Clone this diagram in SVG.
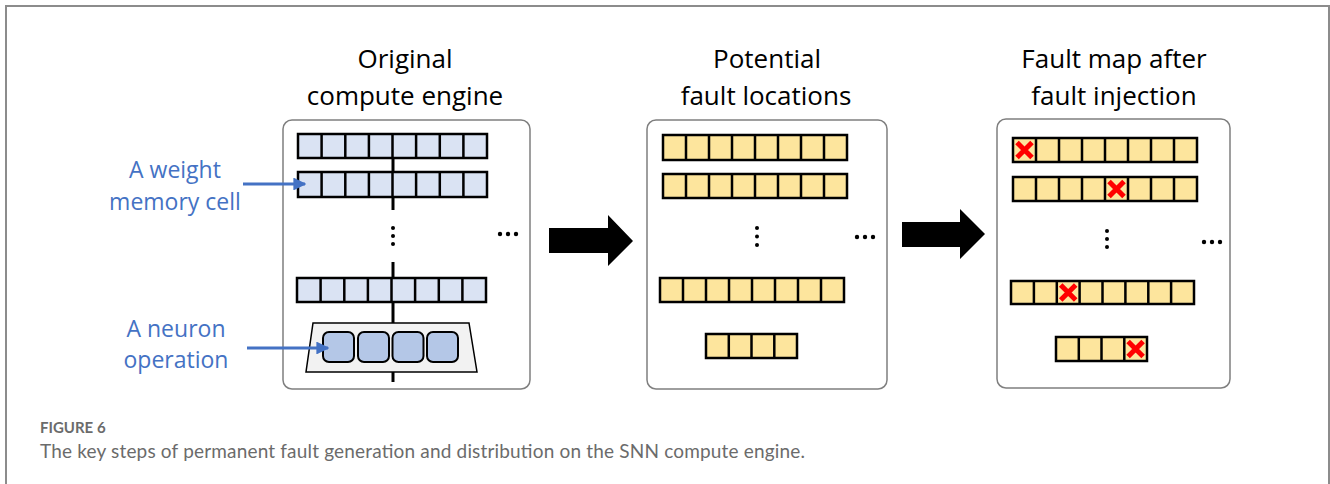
<svg xmlns="http://www.w3.org/2000/svg" width="1330" height="484" viewBox="0 0 1330 484">
  <style>
    .frame { fill: none; stroke: #8c8c8c; stroke-width: 2; }
    .panel { fill: #ffffff; stroke: #7f7f7f; stroke-width: 1.5; }
    .title { font-family: "Open Sans", "Liberation Sans", sans-serif; font-size: 26px; fill: #000; text-anchor: middle; }
    .label { font-family: "Open Sans", "Liberation Sans", sans-serif; font-size: 23px; fill: #4472c4; text-anchor: middle; }
    .wcell { fill: #dae3f3; stroke: #000; stroke-width: 2.5; }
    .fcell { fill: #fde59d; stroke: #000; stroke-width: 2.5; }
    .div { fill: none; stroke: #000; stroke-width: 2.5; }
    .bus { stroke: #000; stroke-width: 3; }
    .dot { fill: #000; }
    .block { fill: #000; }
    .ptr { stroke: #4472c4; stroke-width: 3; fill: none; }
    .fault { stroke: #ff0000; stroke-width: 5; stroke-linecap: butt; }
    .neuron { fill: #b4c7e7; stroke: #000; stroke-width: 2; }
    .cap1 { font-family: "Lato", "Open Sans", sans-serif; font-size: 15px; fill: #6b6b6b; font-weight: bold; }
    .cap2 { font-family: "Lato", "Open Sans", sans-serif; font-size: 19px; fill: #6b6b6b; }
  </style>
  <defs>
    <marker id="ptrhead" viewBox="0 0 10 10" refX="9" refY="5" markerWidth="4.3" markerHeight="4.3" orient="auto" markerUnits="strokeWidth">
      <path d="M0,0 L10,5 L0,10 z" fill="#4472c4"/>
    </marker>
  </defs>

  <!-- outer figure frame -->
  <rect class="frame" x="6" y="6" width="1323" height="500"/>

  <!-- panel 1: original compute engine -->
  <g id="panel-original">
    <text class="title" x="405" y="68">Original</text>
    <text class="title" x="405" y="105">compute engine</text>
    <rect class="panel" x="283" y="120" width="247" height="269" rx="9"/>
    <!-- shared bus line through the rows -->
    <line class="bus" x1="393" y1="158" x2="393" y2="210"/>
    <line class="bus" x1="393" y1="262" x2="393" y2="382"/>
    <g id="w-row1">
      <rect class="wcell" x="298" y="134" width="189" height="24"/>
      <path class="div" d="M321.6,134V158M345.3,134V158M368.9,134V158M392.5,134V158M416.1,134V158M439.8,134V158M463.4,134V158"/>
    </g>
    <g id="w-row2">
      <rect class="wcell" x="298" y="172" width="189" height="25"/>
      <path class="div" d="M321.6,172V197M345.3,172V197M368.9,172V197M392.5,172V197M416.1,172V197M439.8,172V197M463.4,172V197"/>
    </g>
    <circle class="dot" cx="393" cy="228" r="2"/>
    <circle class="dot" cx="393" cy="236" r="2"/>
    <circle class="dot" cx="393" cy="244" r="2"/>
    <circle class="dot" cx="500" cy="234" r="2.2"/>
    <circle class="dot" cx="508" cy="234" r="2.2"/>
    <circle class="dot" cx="516" cy="234" r="2.2"/>
    <g id="w-row3">
      <rect class="wcell" x="297" y="278" width="189" height="24"/>
      <path class="div" d="M320.6,278V302M344.3,278V302M367.9,278V302M391.5,278V302M415.1,278V302M438.8,278V302M462.4,278V302"/>
    </g>
    <g id="neuron-unit">
      <polygon points="313,323 469,323 477,372 306,372" fill="#f2f2f2" stroke="#000" stroke-width="1.5"/>
      <rect class="neuron" x="323" y="332" width="31" height="30" rx="6"/>
      <rect class="neuron" x="358" y="332" width="31" height="30" rx="6"/>
      <rect class="neuron" x="392.5" y="332" width="31" height="30" rx="6"/>
      <rect class="neuron" x="427" y="332" width="31" height="30" rx="6"/>
    </g>
  </g>

  <!-- annotations -->
  <g id="label-weight">
    <text class="label" x="175" y="178">A weight</text>
    <text class="label" x="175" y="210">memory cell</text>
  </g>
  <g id="label-neuron">
    <text class="label" x="176" y="337">A neuron</text>
    <text class="label" x="176" y="368">operation</text>
  </g>

  <!-- panel 2: potential fault locations -->
  <g id="panel-potential">
    <text class="title" x="767" y="68">Potential</text>
    <text class="title" x="766" y="105">fault locations</text>
    <rect class="panel" x="647" y="120" width="240" height="269" rx="9"/>
    <g>
      <rect class="fcell" x="663" y="135" width="184" height="25"/>
      <path class="div" d="M686,135V160M709,135V160M732,135V160M755,135V160M778,135V160M801,135V160M824,135V160"/>
    </g>
    <g>
      <rect class="fcell" x="663" y="174" width="184" height="24"/>
      <path class="div" d="M686,174V198M709,174V198M732,174V198M755,174V198M778,174V198M801,174V198M824,174V198"/>
    </g>
    <circle class="dot" cx="757" cy="228" r="2"/>
    <circle class="dot" cx="757" cy="236.5" r="2"/>
    <circle class="dot" cx="757" cy="245" r="2"/>
    <circle class="dot" cx="857" cy="237" r="2.2"/>
    <circle class="dot" cx="865" cy="237" r="2.2"/>
    <circle class="dot" cx="873" cy="237" r="2.2"/>
    <g>
      <rect class="fcell" x="660" y="278" width="184" height="24"/>
      <path class="div" d="M683,278V302M706,278V302M729,278V302M752,278V302M775,278V302M798,278V302M821,278V302"/>
    </g>
    <g>
      <rect class="fcell" x="706" y="334" width="91" height="24"/>
      <path class="div" d="M728.8,334V358M751.5,334V358M774.3,334V358"/>
    </g>
  </g>

  <!-- panel 3: fault map after injection -->
  <g id="panel-faultmap">
    <text class="title" x="1114" y="68">Fault map after</text>
    <text class="title" x="1114" y="105">fault injection</text>
    <rect class="panel" x="997" y="119" width="233" height="269" rx="9"/>
    <g>
      <rect class="fcell" x="1013" y="138" width="184" height="24"/>
      <path class="div" d="M1036,138V162M1059,138V162M1082,138V162M1105,138V162M1128,138V162M1151,138V162M1174,138V162"/>
    </g>
    <g>
      <rect class="fcell" x="1013" y="177" width="184" height="24"/>
      <path class="div" d="M1036,177V201M1059,177V201M1082,177V201M1105,177V201M1128,177V201M1151,177V201M1174,177V201"/>
    </g>
    <circle class="dot" cx="1107" cy="231" r="2"/>
    <circle class="dot" cx="1107" cy="239" r="2"/>
    <circle class="dot" cx="1107" cy="247" r="2"/>
    <circle class="dot" cx="1204" cy="242" r="2.2"/>
    <circle class="dot" cx="1212" cy="242" r="2.2"/>
    <circle class="dot" cx="1220" cy="242" r="2.2"/>
    <g>
      <rect class="fcell" x="1011" y="281" width="183" height="23"/>
      <path class="div" d="M1033.9,281V304M1056.8,281V304M1079.6,281V304M1102.5,281V304M1125.4,281V304M1148.3,281V304M1171.1,281V304"/>
    </g>
    <g>
      <rect class="fcell" x="1056" y="337" width="91" height="24"/>
      <path class="div" d="M1078.8,337V361M1101.5,337V361M1124.3,337V361"/>
    </g>
    <!-- injected faults -->
    <g id="faults">
      <path class="fault" d="M1017,142.5L1032,157.5M1032,142.5L1017,157.5"/>
      <path class="fault" d="M1109,181.5L1124,196.5M1124,181.5L1109,196.5"/>
      <path class="fault" d="M1060.7,285L1075.7,300M1075.7,285L1060.7,300"/>
      <path class="fault" d="M1128.1,341.5L1143.1,356.5M1143.1,341.5L1128.1,356.5"/>
    </g>
  </g>

  <!-- connectors -->
  <g id="connectors">
    <line class="ptr" x1="243" y1="184" x2="305" y2="184" marker-end="url(#ptrhead)"/>
    <line class="ptr" x1="247" y1="348" x2="328" y2="348" marker-end="url(#ptrhead)"/>
    <polygon class="block" points="549,228 608,228 608,215 633,241 608,266 608,253 549,253"/>
    <polygon class="block" points="902,222 960,222 960,209 985,234 960,259 960,247 902,247"/>
  </g>

  <!-- caption -->
  <text class="cap1" x="40" y="433">FIGURE 6</text>
  <text class="cap2" x="40" y="458" textLength="765" lengthAdjust="spacing">The key steps of permanent fault generation and distribution on the SNN compute engine.</text>
</svg>
